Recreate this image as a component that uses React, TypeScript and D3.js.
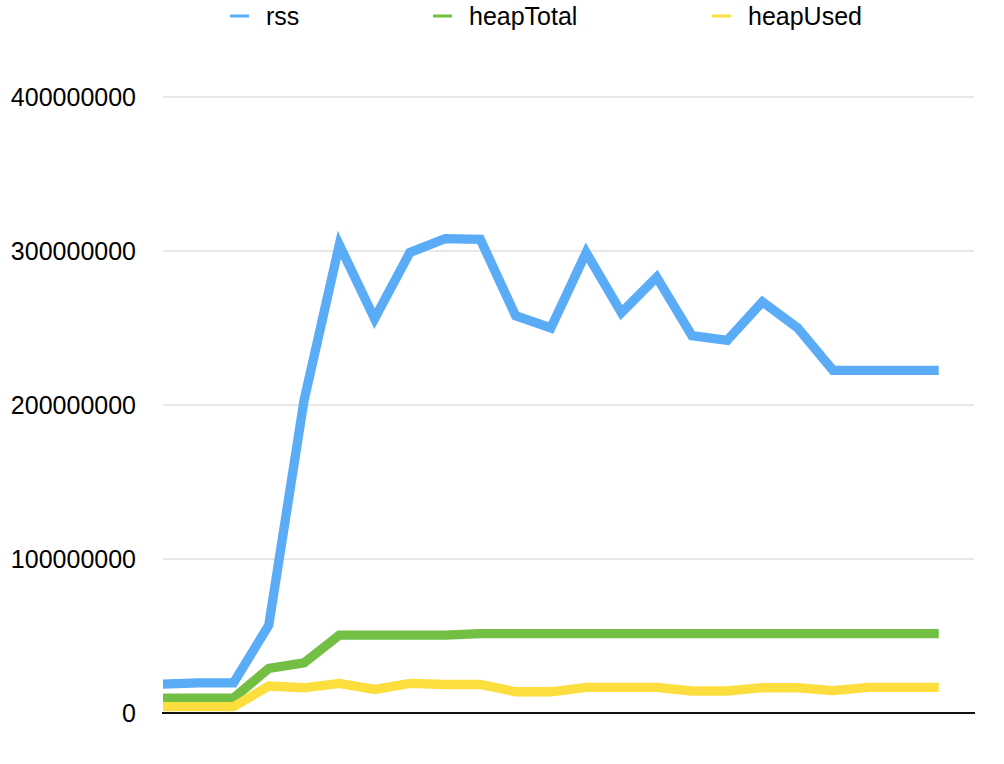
import React from 'react';
import * as d3 from 'd3';

// memory samples, in millions of bytes
const rss = [18.8, 19.5, 19.5, 57, 203, 304, 256, 299, 308, 307.5, 258, 250, 299, 260, 283, 245, 242, 267, 250, 222.5, 222.5, 222.5, 222.5];
const heapTotal = [9.7, 9.7, 9.7, 29, 32.5, 50.6, 50.6, 50.6, 50.6, 51.6, 51.6, 51.6, 51.6, 51.6, 51.6, 51.6, 51.6, 51.6, 51.6, 51.6, 51.6, 51.6, 51.6];
const heapUsed = [4.1, 4.1, 4.1, 17.5, 16.4, 19.2, 15.3, 19.2, 18.5, 18.5, 13.8, 13.8, 16.6, 16.6, 16.6, 14.3, 14.3, 16.4, 16.4, 14.5, 16.6, 16.6, 16.6];
const seriesNames = ['rss', 'heapTotal', 'heapUsed'];
const seriesColors = ['#5AACF7', '#72BF44', '#FCDE3F'];
const yTicks = [0, 100000000, 200000000, 300000000, 400000000];

const width = 1004;
const height = 764;
const plot = { left: 163, right: 974, top: 97, bottom: 713 };
const font = '"Liberation Sans", Arial, Helvetica, sans-serif';

const App: React.FC = () => {
  const allSeries = [rss, heapTotal, heapUsed].map(s => s.map(v => v * 1e6));

  const x = d3.scaleLinear().domain([0, 23]).range([plot.left, plot.right]);
  const y = d3.scaleLinear().domain([0, 400000000]).range([plot.bottom, plot.top]);

  const line = d3.line<number>()
    .x((_, i) => x(i))
    .y(d => y(d));

  // legend entries: marker x, text sits 36px to the right
  const legendX = [230, 433, 712];

  return (
    <svg
      width={width}
      height={height}
      style={{ position: 'absolute', left: 0, top: 0, background: '#fff' }}
      fontFamily={font}
    >
      {/* gridlines */}
      {yTicks.filter(t => t > 0).map(t => (
        <line key={t} x1={plot.left} x2={plot.right} y1={y(t)} y2={y(t)} stroke="#cfcfcf" strokeWidth={1} />
      ))}

      {/* y labels */}
      {yTicks.map(t => (
        <text key={t} x={136} y={y(t)} dy="0.36em" textAnchor="end" fontSize={25} fill="#000">
          {d3.format('d')(t)}
        </text>
      ))}

      {/* series */}
      {allSeries.map((s, i) => (
        <path
          key={seriesNames[i]}
          d={line(s) || ''}
          fill="none"
          stroke={seriesColors[i]}
          strokeWidth={9.3}
          strokeLinejoin="miter"
          strokeLinecap="butt"
        />
      ))}

      {/* baseline */}
      <line x1={plot.left - 1} x2={plot.right + 1} y1={y(0)} y2={y(0)} stroke="#111" strokeWidth={2} />

      {/* legend */}
      {seriesNames.map((name, i) => (
        <g key={name}>
          <line x1={legendX[i]} x2={legendX[i] + 19} y1={16} y2={16} stroke={seriesColors[i]} strokeWidth={3} />
          <text x={legendX[i] + 36} y={25} fontSize={25} fill="#000">{name}</text>
        </g>
      ))}
    </svg>
  );
};

export default App;
